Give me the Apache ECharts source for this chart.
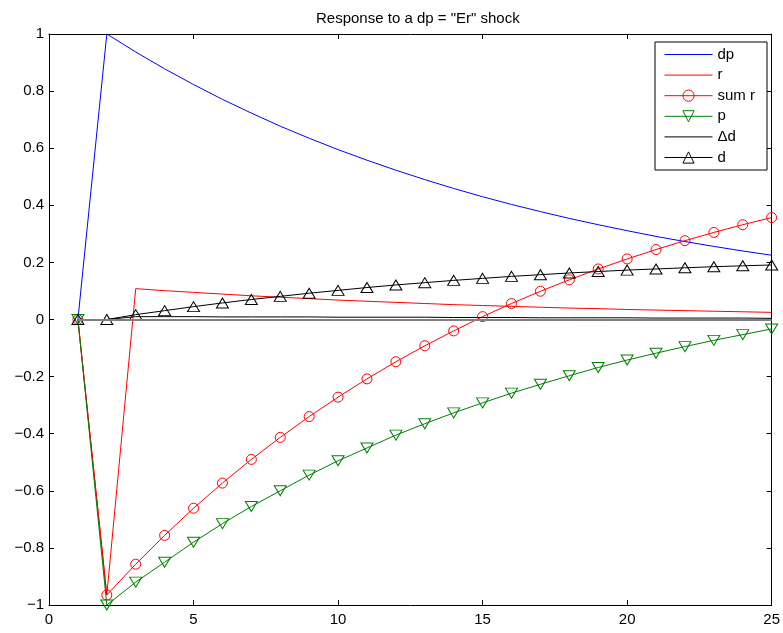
<!DOCTYPE html>
<html>
<head>
<meta charset="utf-8">
<script src="https://cdn.jsdelivr.net/npm/echarts@6/dist/echarts.min.js"></script>
<style>html,body{margin:0;padding:0;background:#fff;}#main{width:783px;height:633px;}</style>
</head>
<body>
<div id="main"></div>
<script>
const periods = [1,2,3,4,5,6,7,8,9,10,11,12,13,14,15,16,17,18,19,20,21,22,23,24,25];
const dpVals = [0,1,0.937,0.878,0.823,0.771,0.723,0.677,0.635,0.595,0.558,0.523,0.490,0.459,0.430,0.403,0.378,0.354,0.332,0.311,0.291,0.273,0.256,0.240,0.225];
const rVals = [0,-0.965,0.108,0.101,0.095,0.089,0.083,0.078,0.073,0.068,0.064,0.060,0.056,0.052,0.049,0.046,0.043,0.040,0.038,0.035,0.033,0.031,0.029,0.027,0.025];
const sumRVals = [0,-0.965,-0.857,-0.756,-0.661,-0.573,-0.490,-0.413,-0.340,-0.272,-0.208,-0.148,-0.092,-0.040,0.010,0.056,0.099,0.139,0.177,0.212,0.245,0.276,0.305,0.332,0.357];
const pVals = [0,-1.0,-0.92,-0.85,-0.78,-0.715,-0.655,-0.6,-0.545,-0.495,-0.45,-0.405,-0.365,-0.327,-0.292,-0.258,-0.227,-0.197,-0.168,-0.142,-0.118,-0.095,-0.073,-0.053,-0.033];
const ddVals = [0,0,0.010,0.010,0.010,0.009,0.009,0.009,0.009,0.008,0.008,0.008,0.008,0.007,0.007,0.007,0.006,0.006,0.006,0.006,0.005,0.005,0.005,0.005,0.004];
const dVals = [0,0,0.017,0.031,0.045,0.058,0.070,0.081,0.092,0.102,0.112,0.121,0.129,0.137,0.144,0.151,0.157,0.163,0.168,0.173,0.177,0.181,0.185,0.188,0.191];
const seriesNames = ['dp','r','sum r','p','\u0394d','d'];
const seriesColors = ['#0000ff','#ff0000','#ff0000','#008000','#000000','#000000'];
const xTicks = [0,5,10,15,20,25];
const yTicks = [-1,-0.8,-0.6,-0.4,-0.2,0,0.2,0.4,0.6,0.8,1];
const titleText = 'Response to a dp = "Er" shock';

const FONT = '"Liberation Sans", Arial, Helvetica, sans-serif';
const pairs = vals => periods.map((x,i)=>[x,vals[i]]);
const fmtY = v => { const s = String(Math.round(v*10)/10); return s.replace('-', '\u2212'); };

function lineSeries(i, vals, sym, extra) {
  const color = seriesColors[i];
  const s = {
    name: seriesNames[i], type:'line', data:pairs(vals), xAxisIndex:0, yAxisIndex:0,
    lineStyle:{color, width:1}, color,
    symbol: sym ? sym.symbol : 'none', showSymbol: !!sym,
    symbolSize: sym ? sym.size : 0, symbolRotate: sym ? (sym.rotate||0) : 0,
    itemStyle:{color:'rgba(255,255,255,0)', borderColor:color, borderWidth:1},
    emphasis:{disabled:true}, animation:false, clip:false, z: 3
  };
  return Object.assign(s, extra||{});
}
const noMark = {color:'rgba(0,0,0,0)', borderColor:'rgba(0,0,0,0)', borderWidth:0};
const hasMark = [false,false,true,true,false,true];
const legendData = seriesNames.map((n,i)=>{
  const o = {name:n, lineStyle:{color:seriesColors[i], width:1}};
  o.itemStyle = hasMark[i] ? {color:'rgba(255,255,255,0)', borderColor:seriesColors[i], borderWidth:1} : noMark;
  return o;
});

const chart = echarts.init(document.getElementById('main'), null, {renderer:'canvas'});
const axisBase = {
  axisLine:{show:true, onZero:false, lineStyle:{color:'#000', width:1}},
  axisTick:{show:true, inside:true, length:5, lineStyle:{color:'#000'}},
  splitLine:{show:false}
};
chart.setOption({
  backgroundColor:'#fff',
  animation:false,
  textStyle:{fontFamily:FONT},
  title:{text:titleText, left:311, top:6, textStyle:{fontFamily:FONT, fontSize:15, fontWeight:'normal', color:'#000'}},
  grid:{left:49, right:11, top:34, bottom:28, containLabel:false},
  legend:{
    orient:'vertical', left:655, top:42, width:109,
    padding:[5,12,5,9], itemWidth:48, itemHeight:14, itemGap:5.6,
    backgroundColor:'#fff', borderColor:'#000', borderWidth:1,
    lineStyle:{width:1},
    itemStyle:{borderWidth:1, color:'rgba(255,255,255,0)'},
    textStyle:{fontFamily:FONT, fontSize:15, color:'#000', lineHeight:14},
    data:legendData,
    selectedMode:false
  },
  xAxis:[
    Object.assign({type:'value', min:xTicks[0], max:xTicks[xTicks.length-1], interval:5, position:'bottom',
      axisLabel:{color:'#000', fontSize:15, fontFamily:FONT, margin:7}}, axisBase),
    Object.assign({type:'value', min:xTicks[0], max:xTicks[xTicks.length-1], interval:5, position:'top',
      axisLabel:{show:false}}, axisBase)
  ],
  yAxis:[
    Object.assign({type:'value', min:yTicks[0], max:yTicks[yTicks.length-1], interval:0.2, position:'left',
      axisLabel:{color:'#000', fontSize:15, fontFamily:FONT, margin:5, formatter:fmtY}}, axisBase),
    Object.assign({type:'value', min:yTicks[0], max:yTicks[yTicks.length-1], interval:0.2, position:'right',
      axisLabel:{show:false}}, axisBase)
  ],
  series:[
    lineSeries(0, dpVals, null),
    lineSeries(1, rVals, null),
    lineSeries(2, sumRVals, {symbol:'circle', size:10}),
    lineSeries(3, pVals, {symbol:'triangle', size:[12,10], rotate:180}),
    lineSeries(4, ddVals, null, {
      markLine:{silent:true, symbol:'none', label:{show:false}, animation:false,
        lineStyle:{color:'#808080', width:2, type:'solid'},
        data:[[{coord:[periods[0],0]},{coord:[periods[periods.length-1],0]}]]}
    }),
    lineSeries(5, dVals, {symbol:'triangle', size:[12,10]})
  ]
});
</script>
</body>
</html>
